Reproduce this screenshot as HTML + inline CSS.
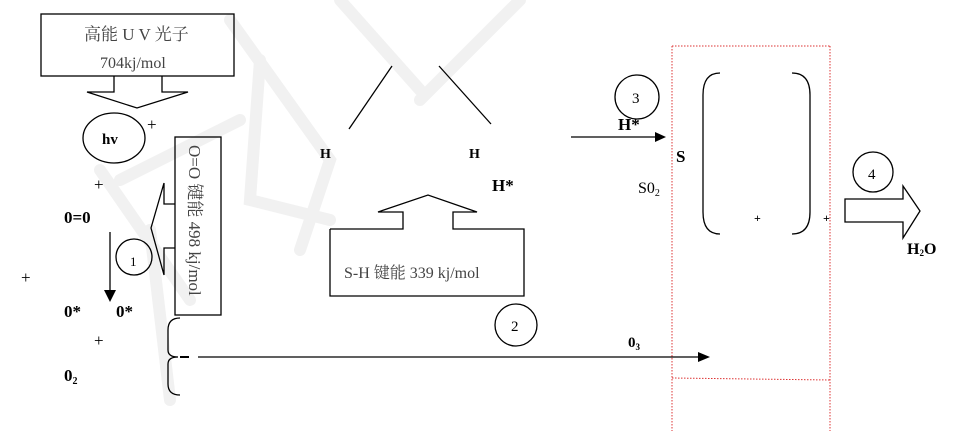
<!DOCTYPE html>
<html><head><meta charset="utf-8"><style>
body{margin:0;background:#fff}
svg{display:block}
text{font-family:"Liberation Serif","Noto Serif CJK SC",serif;fill:#000}
.b{font-weight:bold}
.g{fill:#444}
</style></head><body>
<svg width="961" height="431" viewBox="0 0 961 431" xmlns="http://www.w3.org/2000/svg">
<g stroke="#f1f1f1" stroke-width="12" fill="none" stroke-linecap="round">
<path d="M100 170 L190 300"/><path d="M120 180 L240 120"/><path d="M150 230 L170 400"/>
<path d="M230 20 L330 160 L300 250"/><path d="M340 0 L420 90"/><path d="M260 60 L250 200 L330 220"/>
<path d="M420 100 L520 0"/>
</g>
<g fill="none" stroke="#000" stroke-width="1.3">
<rect x="41" y="14" width="193" height="62"/>
<polyline points="114,76 114,92 87,92 137,108 188,92 162,92 162,76"/>
<ellipse cx="114" cy="138" rx="31" ry="25"/>
<rect x="175" y="137" width="46" height="178"/>
<polyline points="175,204 164,204 164,183 151,228 164,275 164,248 175,248"/>
<circle cx="134" cy="257" r="18"/>
<line x1="110" y1="232" x2="110" y2="292"/>
<path d="M180 318 Q168 318 168 330 L168 350 Q168 357 178 357 Q168 357 168 364 L168 384 Q168 395 180 395"/>
<line x1="180" y1="357" x2="189" y2="357" stroke-width="2"/>
<line x1="198" y1="357" x2="698" y2="357"/>
<line x1="349" y1="129" x2="392" y2="66"/>
<line x1="439" y1="66" x2="491" y2="124"/>
<polyline points="330,229 330,296 524,296 524,229 453,229 453,212 477,212 428,195 378,212 403,212 403,229 330,229"/>
<circle cx="516" cy="325" r="21"/>
<circle cx="637" cy="97" r="22"/>
<line x1="571" y1="137" x2="655" y2="137"/>
<path d="M720 73 Q703 73 703 95 L703 212 Q703 234 720 234"/>
<path d="M792 73 Q810 73 810 95 L810 212 Q810 234 792 234"/>
<circle cx="873" cy="172" r="20"/>
<polygon points="845,199 903,199 903,186 920,211 903,238 903,222 845,222"/>
</g>
<polygon points="104,290 116,290 110,302"/>
<polygon points="698,352 710,357 698,362"/>
<polygon points="655,132 666,137 655,142"/>
<g fill="none" stroke="#d33" stroke-width="1" stroke-dasharray="1.5,1.5">
<line x1="672" y1="46" x2="830" y2="46"/>
<line x1="672" y1="46" x2="672" y2="431"/>
<line x1="830" y1="46" x2="830" y2="431"/>
<line x1="672" y1="378" x2="830" y2="380"/>
</g>
<text x="84" y="40" font-size="17" class="g">高能 U V 光子</text>
<text x="100" y="68" font-size="16" class="g">704kj/mol</text>
<text x="102" y="144" font-size="15" class="b">hv</text>
<text x="147" y="130" font-size="17">+</text>
<text transform="translate(189,145) rotate(90)" font-size="17" class="g">O=O 键能 498 kj/mol</text>
<text x="94" y="190" font-size="17">+</text>
<text x="64" y="223" font-size="17" class="b">0=0</text>
<text x="130" y="266" font-size="13">1</text>
<text x="21" y="283" font-size="17">+</text>
<text x="64" y="317" font-size="17" class="b">0*</text>
<text x="116" y="317" font-size="17" class="b">0*</text>
<text x="94" y="346" font-size="17">+</text>
<text x="64" y="381" font-size="17" class="b">0<tspan font-size="10" dy="3">2</tspan></text>
<text x="320" y="158" font-size="14" class="b">H</text>
<text x="469" y="158" font-size="14" class="b">H</text>
<text x="492" y="191" font-size="17" class="b">H*</text>
<text x="344" y="278" font-size="16" class="g">S-H 键能 339 kj/mol</text>
<text x="511" y="331" font-size="15">2</text>
<text x="632" y="103" font-size="15">3</text>
<text x="618" y="130" font-size="17" class="b">H*</text>
<text x="676" y="162" font-size="17" class="b">S</text>
<text x="638" y="193" font-size="16">S0<tspan font-size="10" dy="3">2</tspan></text>
<text x="754" y="222" font-size="12" class="b">+</text>
<text x="823" y="222" font-size="12" class="b">+</text>
<text x="868" y="179" font-size="15">4</text>
<text x="907" y="254" font-size="16" class="b">H<tspan font-size="9" dy="2">2</tspan><tspan dy="-2">O</tspan></text>
<text x="628" y="347" font-size="15" class="b">0<tspan font-size="9" dy="3">3</tspan></text>
</svg>
</body></html>
